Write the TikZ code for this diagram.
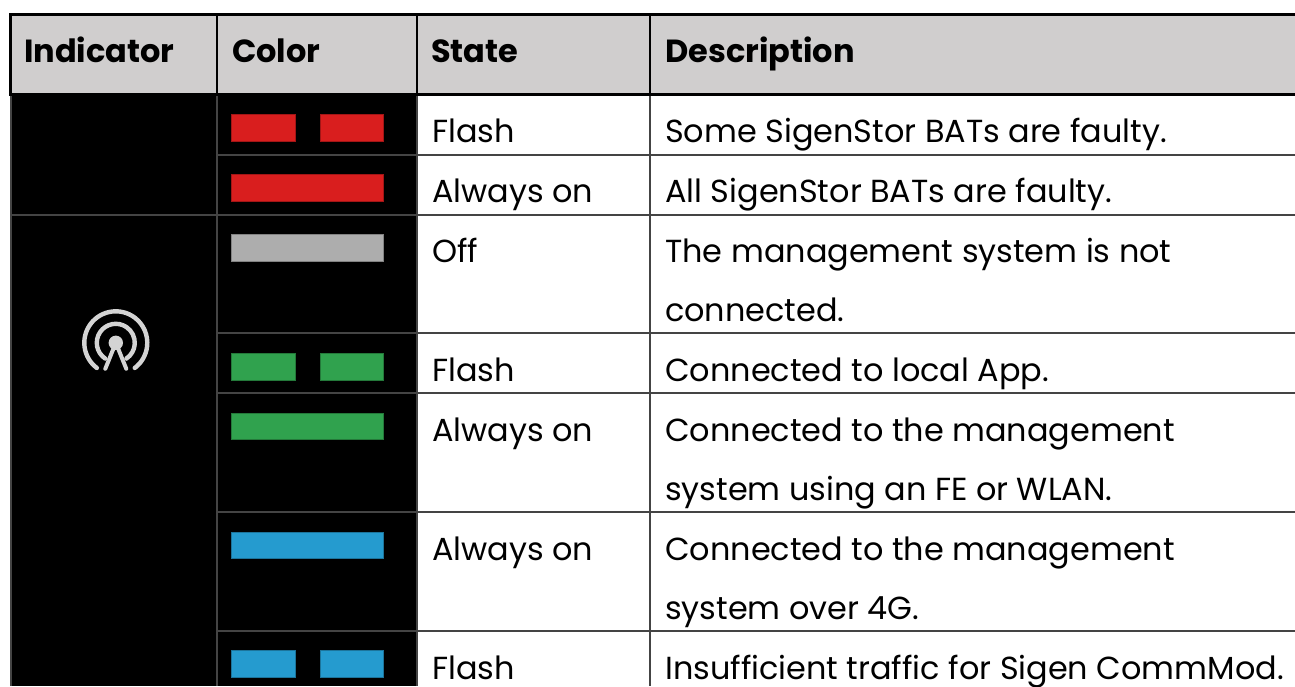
\documentclass[tikz,border=0pt]{standalone}
\usepackage{fontspec}
\setmainfont{Poppins}
\definecolor{hdr}{HTML}{D0CECE}
\definecolor{rule}{HTML}{444444}
\definecolor{redb}{HTML}{D91E1E}
\definecolor{grayb}{HTML}{ADADAD}
\definecolor{greenb}{HTML}{30A24E}
\definecolor{blueb}{HTML}{259BCF}
\definecolor{icon}{HTML}{D4D4D4}
\tikzset{
  head/.style={anchor=base west,inner sep=0pt,font=\fontsize{32}{32}\selectfont\bfseries,text=black},
  cell/.style={anchor=base west,inner sep=0pt,font=\fontsize{31.9}{32}\selectfont,text=black},
  grid/.style={draw=rule,line width=2pt},
  hline/.style={draw=black,line width=2.4pt},
  bar/.style={line width=0.6pt}
}
\newcommand{\lamp}[3]{\fill[#1,draw=#1!75!black,bar] (231.3,-#2) rectangle (#3,-#2-26.5);}
\newcommand{\flashlamp}[2]{\fill[#1,draw=#1!75!black,bar] (231.6,-#2) rectangle (294.8,-#2-26.5);\fill[#1,draw=#1!75!black,bar] (320.3,-#2) rectangle (383.6,-#2-26.5);}
\begin{document}
\begin{tikzpicture}[x=1pt,y=1pt]
\useasboundingbox (0,0) rectangle (1295,-686);
\fill[white] (0,0) rectangle (1295,-686);
\fill[hdr] (10.5,-14.5) rectangle (1295,-94.5);
\fill[black] (10.5,-94.5) rectangle (417,-686);
% grid
\foreach \y in {154.5,214.5,333,392.5,511.5,630.5} \draw[grid] (217,-\y) -- (1295,-\y);
\draw[grid] (10.5,-214.5) -- (217,-214.5);
\foreach \x in {10.5,217,417,650} \draw[grid] (\x,-94.5) -- (\x,-686);
\foreach \x in {10.5,217,417,650} \draw[hline] (\x,-14.5) -- (\x,-94.5);
\draw[hline] (9.3,-14.5) -- (1295,-14.5);
\draw[hline] (9.3,-94.5) -- (1295,-94.5);
% header
\node[head] (h1) at (24,-62) {Indicator};
\node[head] (h2) at (232,-62) {Color};
\node[head] (h3) at (431,-62) {State};
\node[head] (h4) at (665,-62) {Description};
% lamps
\flashlamp{redb}{114.5}
\lamp{redb}{174.5}{383.6}
\lamp{grayb}{234.5}{383.6}
\flashlamp{greenb}{353.5}
\lamp{greenb}{413}{383.6}
\lamp{blueb}{532}{383.6}
\flashlamp{blueb}{650.5}
% text
\node[cell] (s1) at (432,-142) {Flash};
\node[cell] (s2) at (432,-202) {Always on};
\node[cell] (s3) at (432,-262) {Off};
\node[cell] (s4) at (432,-381) {Flash};
\node[cell] (s5) at (432,-441) {Always on};
\node[cell] (s6) at (432,-560) {Always on};
\node[cell] (s7) at (432,-679) {Flash};
\node[cell] (d1) at (665,-142) {Some SigenStor BATs are faulty.};
\node[cell] (d2) at (665,-202) {All SigenStor BATs are faulty.};
\node[cell] (d3) at (665,-262) {The management system is not};
\node[cell] (d3b) at (665,-321) {connected.};
\node[cell] (d4) at (665,-381) {Connected to local App.};
\node[cell] (d5) at (665,-441) {Connected to the management};
\node[cell] (d5b) at (665,-500) {system using an FE or WLAN.};
\node[cell] (d6) at (665,-560) {Connected to the management};
\node[cell] (d6b) at (665,-619) {system over 4G.};
\node[cell] (d7) at (665,-679) {Insufficient traffic for Sigen CommMod.};
% icon
\begin{scope}[shift={(115.8,-342.8)},draw=icon,line cap=round,line width=4.4pt]
\fill[icon] (0,0) circle (7.2);
\draw (233:31.5) arc (233:-53:31.5);
\draw (236:19) arc (236:-56:19);
\draw[line width=4pt] (0,0) -- (-10.5,-26);
\draw[line width=4pt] (0,0) -- (10.5,-26);
\end{scope}
\end{tikzpicture}
\end{document}
